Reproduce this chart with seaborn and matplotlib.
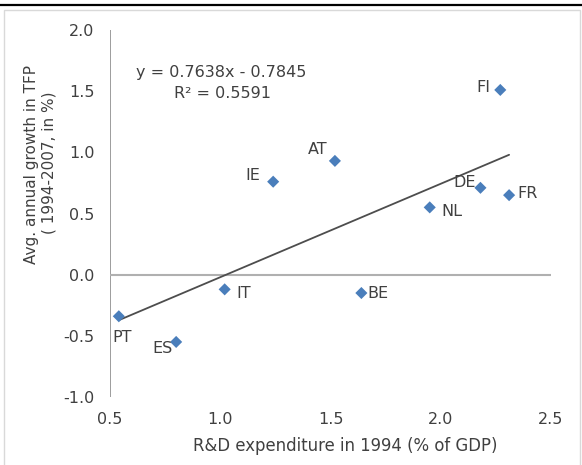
import matplotlib
matplotlib.use("Agg")
import matplotlib.pyplot as plt
import seaborn as sns
import pandas as pd
import numpy as np
from matplotlib.lines import Line2D
from matplotlib.patches import Rectangle

# R&D expenditure (1994, % of GDP) vs average annual TFP growth (1994-2007, %)
countries = ["PT", "ES", "IT", "BE", "IE", "AT", "FI", "DE", "FR", "NL"]
rd_spend = [0.54, 0.80, 1.02, 1.64, 1.24, 1.52, 2.27, 2.18, 2.31, 1.95]
tfp_growth = [-0.34, -0.55, -0.12, -0.15, 0.76, 0.93, 1.51, 0.71, 0.65, 0.55]

# Linear trend line reported on the chart
slope = 0.7638
intercept = -0.7845
r_squared = 0.5591

df = pd.DataFrame({"country": countries, "rd": rd_spend, "tfp": tfp_growth})

sns.set_style("white")
plt.rcParams["font.family"] = ["DejaVu Sans"]
plt.rcParams["font.sans-serif"] = ["DejaVu Sans"]
FONT = "DejaVu Sans"
FS = 11.5

W, H = 582, 465
fig = plt.figure(figsize=(W / 100, H / 100), dpi=100)
ax = fig.add_axes([110 / W, 1 - 397 / H, (551 - 110) / W, (397 - 30) / H])

text_col = "#404040"
axis_col = "#8c8c8c"
blue = "#4A7EBB"

sns.scatterplot(data=df, x="rd", y="tfp", marker="D", s=38, color=blue,
                edgecolor="none", linewidth=0, ax=ax, zorder=4, clip_on=False)

# Trend line over the range of the data
xs = np.array([min(rd_spend), max(rd_spend)])
ax.plot(xs, slope * xs + intercept, color="#4d4d4d", lw=1.3, zorder=3)

ax.set_xlim(0.5, 2.5)
ax.set_ylim(-1.0, 2.0)
ax.set_xticks([0.5, 1.0, 1.5, 2.0, 2.5])
ax.set_yticks([-1.0, -0.5, 0.0, 0.5, 1.0, 1.5, 2.0])
ax.set_xticklabels([f"{v:.1f}" for v in ax.get_xticks()], fontfamily=FONT)
ax.set_yticklabels([f"{v:.1f}" for v in ax.get_yticks()], fontfamily=FONT)
ax.tick_params(axis="both", length=0, labelsize=FS, colors=text_col)
ax.tick_params(axis="y", pad=11)
ax.tick_params(axis="x", pad=11)
for sp in ax.spines.values():
    sp.set_visible(False)
ax.set_xlabel("")
ax.set_ylabel("")

# Axis lines: vertical at x=0.5, horizontal at y=0
ax.axvline(0.5, color=axis_col, lw=1.2, zorder=2)
ax.axhline(0.0, color="#b0b0b0", lw=1.5, zorder=2)

# Country labels
offsets = {
    "PT": (3, -21, "center"),
    "ES": (-4, -7, "right"),
    "IT": (12, -4, "left"),
    "BE": (6, 0, "left"),
    "IE": (-13, 6, "right"),
    "AT": (-7, 11, "right"),
    "FI": (-10, 2, "right"),
    "DE": (-5, 5, "right"),
    "FR": (8, 2, "left"),
    "NL": (12, -4, "left"),
}
for c, x, y in zip(countries, rd_spend, tfp_growth):
    dx, dy, ha = offsets[c]
    ax.annotate(c, (x, y), xytext=(dx, dy), textcoords="offset pixels",
                ha=ha, va="center", fontsize=FS, color=text_col, zorder=5,
                fontfamily=FONT)

# Regression equation
fig.text(221 / W, 1 - 73 / H, f"y = {slope:.4f}x - {abs(intercept):.4f}",
         ha="center", va="center", fontsize=FS, color=text_col, fontfamily=FONT)
fig.text(222 / W, 1 - 94 / H, f"R² = {r_squared:.4f}",
         ha="center", va="center", fontsize=FS, color=text_col, fontfamily=FONT)

# Axis titles
fig.text(345 / W, 1 - 446 / H, "R&D expenditure in 1994 (% of GDP)",
         ha="center", va="center", fontsize=11.9, color=text_col, fontfamily=FONT)
fig.text(32 / W, 1 - 164 / H, "Avg. annual growth in TFP",
         ha="center", va="center", rotation=90, fontsize=11, color=text_col,
         fontfamily=FONT)
fig.text(49 / W, 1 - 163 / H, "( 1994-2007, in %)",
         ha="center", va="center", rotation=90, fontsize=11, color=text_col,
         fontfamily=FONT)

# Chart frame and rule above it
fig.patches.append(Rectangle((4 / W, -0.1), (580 - 4) / W, 1.1 - 10 / H,
                             transform=fig.transFigure, fill=False,
                             edgecolor="#d9d9d9", lw=1.0))
fig.lines.append(Line2D([0, 1], [1 - 5 / H, 1 - 5 / H], transform=fig.transFigure,
                        color="black", lw=1.6))

fig.savefig("out.png", dpi=100)
